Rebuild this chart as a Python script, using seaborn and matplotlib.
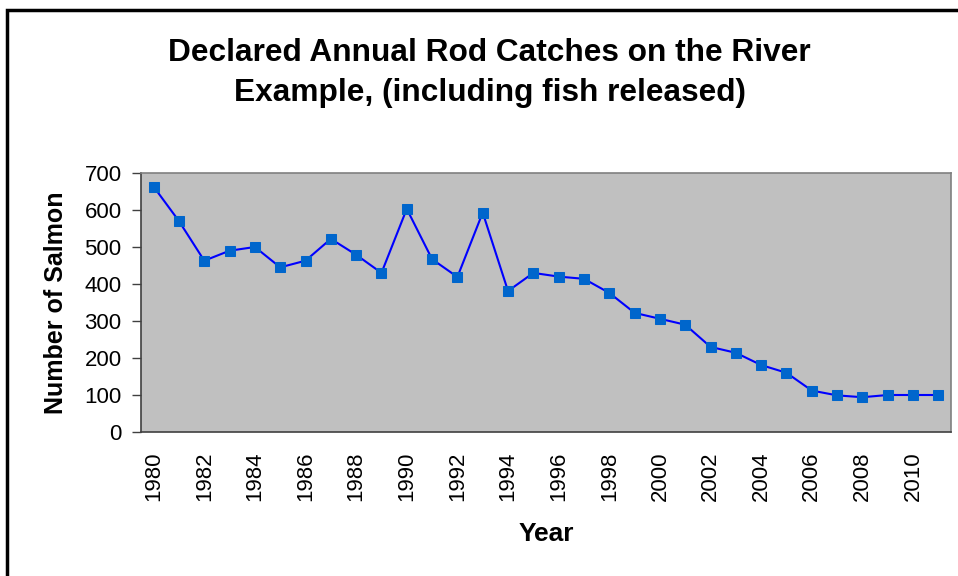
import matplotlib
matplotlib.use("Agg")
import matplotlib.pyplot as plt
import matplotlib.ticker as ticker
from matplotlib.patches import Rectangle
import pandas as pd
import seaborn as sns

years = list(range(1980, 2012))
salmon = [663, 570, 463, 490, 500, 445, 463, 522, 479, 430,
          603, 467, 419, 593, 381, 430, 420, 414, 376, 322,
          306, 290, 230, 214, 181, 160, 112, 99, 94, 100,
          100, 100]
year_labels = [str(y) for y in range(1980, 2012, 2)]

df = pd.DataFrame({"Year": years, "Salmon": salmon})

sns.set_style("white")
plt.rcParams["font.family"] = ["Liberation Sans", "DejaVu Sans"]
plt.rcParams["text.color"] = "black"
plt.rcParams["axes.labelcolor"] = "black"

fig = plt.figure(figsize=(9.58, 5.76), dpi=100)
ax = fig.add_axes([141 / 958, 1 - 432 / 576, (951 - 141) / 958, (432 - 173) / 576])

sns.lineplot(data=df, x="Year", y="Salmon", ax=ax, color="#0000ff", linewidth=1.5,
             marker="s", markersize=7, markerfacecolor="#0066cc",
             markeredgecolor="#0066cc", zorder=3)

ax.set_facecolor("#c0c0c0")
ax.set_xlim(1979.5, 2011.5)
ax.set_ylim(0, 700)
ax.yaxis.set_major_locator(ticker.MultipleLocator(100))

# Excel-style category axis: ticks between years, labels on every other year
ax.set_xticks([y + 0.5 for y in range(1979, 2012)], minor=True)
ax.set_xticks(list(range(1980, 2012, 2)))
ax.set_xticklabels(year_labels, rotation=90)
ax.tick_params(axis="x", which="major", length=0, labelsize=16, pad=14, labelcolor="black")
ax.tick_params(axis="x", which="minor", length=5, width=1, color="#404040", direction="out")
ax.tick_params(axis="y", length=6.5, width=1, color="#404040", labelsize=16,
               direction="out", pad=7.5, labelcolor="black")
ax.xaxis.set_tick_params(bottom=True)
ax.yaxis.set_tick_params(left=True)

for side in ["left", "bottom"]:
    ax.spines[side].set_color("#404040")
    ax.spines[side].set_linewidth(1.2)
for side in ["top", "right"]:
    ax.spines[side].set_color("#808080")
    ax.spines[side].set_linewidth(1.2)

ax.set_xlabel("Year", fontsize=19, fontweight="bold", labelpad=15)
ax.set_ylabel("Number of Salmon", fontsize=18, fontweight="bold", labelpad=12)

fig.text(0.511, 0.873, "Declared Annual Rod Catches on the River\nExample, (including fish released)",
         ha="center", va="center", fontsize=22.8, fontweight="bold", linespacing=1.45)

fig.patches.append(Rectangle((7 / 958, -0.05), 1.1, 1 - 10 / 576 + 0.05, transform=fig.transFigure,
                             fill=False, edgecolor="black", linewidth=2.5))

fig.savefig("out.png", dpi=100)
